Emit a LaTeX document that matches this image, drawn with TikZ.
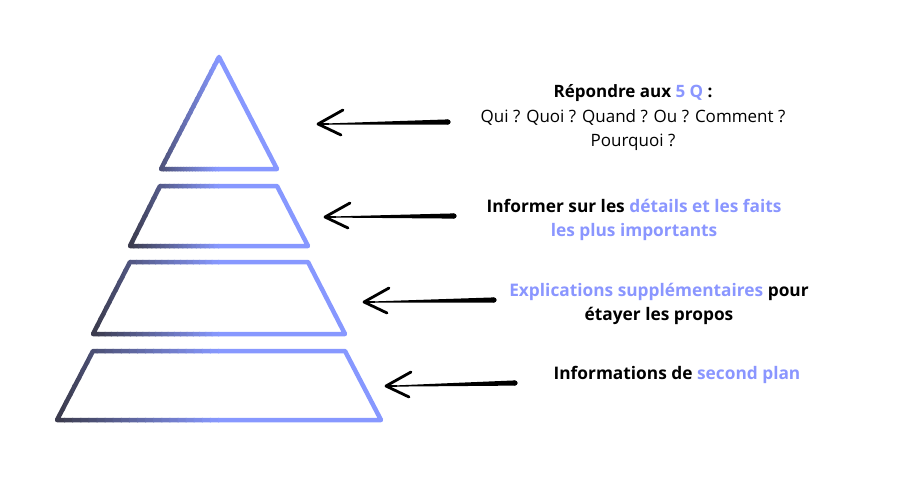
\documentclass[tikz,border=0pt]{standalone}
\usepackage{fontspec}
\setmainfont{Open Sans}
\usepackage{xcolor}
\usetikzlibrary{calc}
\definecolor{pyr-dark}{RGB}{58,58,74}
\definecolor{pyr-blue}{RGB}{135,152,255}
\definecolor{hl-blue}{RGB}{138,150,255}
\newcommand{\hl}[1]{\textcolor{hl-blue}{#1}}
\tikzset{
    pyramid-layer/.style = {line width=4.5pt, line join=round, line cap=round},
    arrow-head/.style = {line width=2.8pt, line cap=round, line join=round},
    caption-text/.style = {align=center, inner sep=0pt, font=\fontsize{17}{24.5}\selectfont},
    caption-bold/.style = {caption-text, font=\fontsize{17.3}{24.5}\selectfont\bfseries},
}
% one layer: #1 path, #2 left x, #3 right x, #4 share of blue at the left edge
% drawn in vertical strips, dark to blue over the left half, blue after
\newcommand{\pyrlayer}[4]{%
    \foreach \i in {0,...,19} {
        \pgfmathsetmacro{\xa}{\i==0 ? #2-6 : #2+(#3-#2)*\i/40-1}
        \pgfmathsetmacro{\xb}{#2+(#3-#2)*(\i+1)/40}
        \pgfmathsetmacro{\pct}{#4+(100-#4)*(\i+0.5)/20}
        \begin{scope}
            \clip (\xa,0) rectangle (\xb,503);
            \draw[pyramid-layer, pyr-blue!\pct!pyr-dark] #1;
        \end{scope}
    }
    \begin{scope}
        \clip ({#2+(#3-#2)/2-1},0) rectangle ({#3+6},503);
        \draw[pyramid-layer, pyr-blue] #1;
    \end{scope}
}
% hand drawn arrow: tapered shaft from tail to tip, open head
\newcommand{\handarrow}[2]{%
    \fill ($(#2)+(10,-0.6)$) -- ($(#1)+(0,-2.6)$) -- ($(#1)+(0,2.6)$) -- ($(#2)+(10,0.6)$) -- cycle;
    \fill (#1) circle (2.6pt);
    \draw[line width=1.2pt] (#2) -- ($(#2)+(11,0)$);
    \draw[arrow-head] ($(#2)+(25,-14)$) -- (#2) -- ($(#2)+(23,11)$);
}
\begin{document}
\begin{tikzpicture}[x=1pt, y=-1pt]
\useasboundingbox (0,0) rectangle (901,503);

\pyrlayer{(219,57) -- (277,169) -- (161,169) -- cycle}{161}{277}{25}
\pyrlayer{(160,186) -- (277,186) -- (308,246) -- (130,246) -- cycle}{130}{308}{0}
\pyrlayer{(130,262) -- (308,262) -- (345,334) -- (93,334) -- cycle}{93}{345}{0}
\pyrlayer{(93,351) -- (345,351) -- (381,420) -- (57,420) -- cycle}{57}{381}{0}

\node[caption-text] (q5) at (633,118) {\textbf{Répondre aux \hl{5 Q} :}\\
    Qui ? Quoi ? Quand ? Ou ? Comment ?\\ Pourquoi ?};
\node[caption-bold] (details) at (634,220)
    {Informer sur les \hl{détails et les faits}\\ \hl{les plus importants}};
\node[caption-bold] (explications) at (659,304)
    {\hl{Explications supplémentaires} pour\\ étayer les propos};
\node[caption-bold] (second-plan) at (677,375)
    {Informations de \hl{second plan}};

\coordinate (q5-tail) at (448,122);
\coordinate (q5-tip) at (318,124);
\coordinate (details-tail) at (454,216);
\coordinate (details-tip) at (325,217);
\coordinate (explications-tail) at (494,300);
\coordinate (explications-tip) at (364,302);
\coordinate (second-plan-tail) at (515,383);
\coordinate (second-plan-tip) at (386,386);

\handarrow{q5-tail}{q5-tip}
\handarrow{details-tail}{details-tip}
\handarrow{explications-tail}{explications-tip}
\handarrow{second-plan-tail}{second-plan-tip}
\end{tikzpicture}
\end{document}
